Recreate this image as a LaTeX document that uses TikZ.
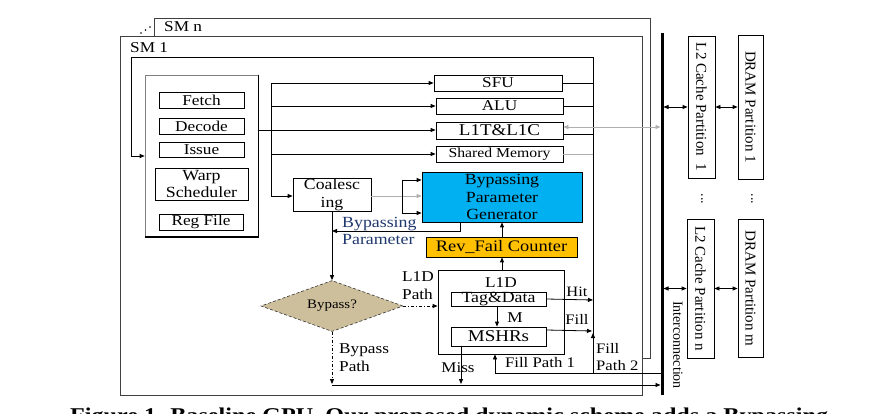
\documentclass[tikz,border=0pt]{standalone}
\usepackage{graphicx}
\usepackage{fontspec}
\setmainfont{Liberation Serif}[FakeStretch=1.15]
\newfontfamily\rotfont{Liberation Serif}
\usetikzlibrary{arrows.meta,shapes.geometric}
\definecolor{bpgblue}{RGB}{0,176,240}
\definecolor{revorange}{RGB}{255,192,0}
\definecolor{diatan}{RGB}{206,191,156}
\definecolor{navyt}{RGB}{31,56,110}
\definecolor{lgray}{RGB}{175,175,175}
\tikzset{
 fr/.style={draw=black!75, line width=0.8pt, fill=white, inner sep=0pt},
 bx/.style={draw, line width=0.8pt, inner sep=0pt, align=center, font=\fontsize{15}{17}\selectfont},
 ar/.style={-{Triangle[length=5pt,width=4pt]}, line width=0.8pt},
 dar/.style={{Triangle[length=5pt,width=4pt]}-{Triangle[length=5pt,width=4pt]}, line width=0.8pt},
 ln/.style={line width=0.8pt},
 dd/.style={dash pattern=on 3pt off 2pt on 1pt off 2pt},
 lbl/.style={inner sep=0pt, font=\fontsize{15}{18}\selectfont, align=left},
 rbx/.style={draw, line width=0.8pt, inner sep=0pt, font=\rotfont\fontsize{15}{16}\selectfont},
}
\begin{document}
\begin{tikzpicture}[x=1pt,y=-1pt]
\useasboundingbox (0,0) rectangle (892,414);
\clip (0,0) rectangle (892,414);
% frames
\node[fr, minimum width=496pt, minimum height=340pt] (smn) at (402,188) {};
\node[fr, minimum width=522pt, minimum height=359pt] (sm1) at (381,215.5) {};
\node[lbl, anchor=west] (smnl) at (164,27) {SM n};
\node[lbl, anchor=west] (sm1l) at (130,48) {SM 1};
\foreach \i in {0,1,2} \fill (141+4.5*\i,33-3*\i) circle (0.8pt);
% interconnect
\coordinate (ict) at (662,33);
\coordinate (icb) at (662,395);
\draw[line width=3pt] (ict) -- (icb);
\node[rotate=-90, inner sep=0pt, font=\rotfont\fontsize{14}{16}\selectfont] (ictxt) at (678,345) {Interconnection};
% pipeline
\node[draw=black!50, line width=0.6pt, minimum width=113pt, minimum height=162pt] (pipe) at (201.5,156) {};
\draw[line width=1.6pt] (pipe.north east) -- (pipe.south east) -- (pipe.south west);
\node[bx, minimum width=85pt, minimum height=16pt] (fetch) at (201.5,100) {Fetch};
\node[bx, minimum width=85pt, minimum height=16pt] (decode) at (201.5,126) {Decode};
\node[bx, minimum width=85pt, minimum height=15pt] (issue) at (201.5,149.5) {Issue};
\node[bx, minimum width=93pt, minimum height=32pt, font=\fontsize{15.5}{17}\selectfont] (warp) at (201.5,184) {Warp\\Scheduler};
\node[bx, minimum width=84pt, minimum height=16pt] (reg) at (201,222) {Reg File};
\foreach \n in {fetch,decode,issue} \draw[line width=1.5pt] (\n.north east) -- (\n.south east);
% functional units
\node[bx, minimum width=128pt, minimum height=16pt] (sfu) at (498,83) {SFU};
\draw[line width=1.6pt] (sfu.north east) -- (sfu.south east);
\node[bx, minimum width=127pt, minimum height=16pt] (alu) at (499.5,106) {ALU};
\node[bx, minimum width=127pt, minimum height=17pt, font=\fontsize{16.5}{17}\selectfont] (l1t) at (499.5,130.5) {L1T\&L1C};
\node[bx, minimum width=127pt, minimum height=16pt, font=\fontsize{13.7}{16}\selectfont] (shm) at (499.5,154) {Shared Memory};
\node[bx, minimum width=78pt, minimum height=33pt, font=\fontsize{15.4}{18}\selectfont] (coal) at (332,194.5) {Coalesc\\ing};
\node[bx, fill=bpgblue, minimum width=160pt, minimum height=50pt, font=\fontsize{15.5}{17.5}\selectfont] (bpg) at (502,197) {Bypassing\\Parameter\\Generator};
\node[bx, fill=revorange, minimum width=151pt, minimum height=20pt, font=\fontsize{16}{18}\selectfont] (rev) at (501.5,247) {Rev\_Fail Counter};
\node[diamond, draw=black!80, densely dashed, line width=0.6pt, fill=diatan, minimum width=142pt, minimum height=51pt, inner sep=0pt, aspect=2.8, font=\fontsize{13}{15}\selectfont] (dec) at (332,306) {Bypass?};
% L1D
\node[bx, minimum width=126pt, minimum height=84pt] (l1d) at (501,312) {};
\node[lbl] (l1dl) at (501,283) {L1D};
\node[bx, minimum width=95pt, minimum height=14pt, font=\fontsize{15.5}{17}\selectfont] (tag) at (498.5,299) {Tag\&Data};
\node[bx, minimum width=95pt, minimum height=19pt, font=\fontsize{16.5}{17}\selectfont] (mshr) at (498.5,336.5) {MSHRs};
% L2 / DRAM
\node[rbx, minimum width=27pt, minimum height=142pt] (l2a) at (701.5,107) {\rotatebox{-90}{L2 Cache Partition~~1}};
\node[rbx, minimum width=25pt, minimum height=144pt] (dr1) at (750.5,107) {\rotatebox{-90}{DRAM Partition 1}};
\node[rbx, minimum width=27pt, minimum height=139pt] (l2b) at (700.5,288.5) {\rotatebox{-90}{L2 Cache Partition n}};
\node[rbx, minimum width=25pt, minimum height=138pt] (drm) at (750.5,288.5) {\rotatebox{-90}{DRAM Partition m}};
\node[rotate=-90, inner sep=0pt, font=\rotfont\fontsize{14}{16}\selectfont] (dots1) at (702,199) {...};
\node[rotate=-90, inner sep=0pt, font=\rotfont\fontsize{14}{16}\selectfont] (dots2) at (752,199) {...};
\draw[dar, shorten <=1.5pt] (ict |- l2a) -- (l2a.west);
\draw[dar] (l2a.east) -- (dr1.west);
\draw[dar, shorten <=1.5pt] (ict |- l2b) -- (l2b.west);
\draw[dar] (l2b.east) -- (drm.west);
% loop / writeback
\draw[ln] (593,57) -- (593,373);
\draw[ar] (593,57) -- (131,57) -- (131,156) -- (pipe.west |- 0,156);
% issue outputs
\draw[ar] (pipe.east |- 0,130) -- (l1t.west |- 0,130);
\draw[ln] (271,83) -- (271,196);
\draw[ar] (271,83) -- (sfu.west);
\draw[ar] (271,106) -- (alu.west);
\draw[ar] (271,154) -- (shm.west);
\draw[ar] (271,196) -- (coal.west |- 0,196);
% unit outputs
\draw[ln] (sfu.east) -- (593,83);
\draw[ln] (alu.east) -- (593,106);
\draw[ln] (l1t.east |- 0,134) -- (593,134);
\draw[ln, lgray] (shm.east) -- (593,154);
\draw[dar, lgray, shorten >=1.5pt] (l1t.east |- 0,127) -- (ict |- 0,127);
% coalescing -> BPG
\draw[ar, lgray] (coal.east |- 0,196) -- (bpg.west |- 0,196);
\draw[ar] (402,196) -- (402,180) -- (bpg.west |- 0,180);
\draw[ar] (402,196) -- (402,213) -- (bpg.west |- 0,213);
\draw[ar] (bpg.south -| 460,0) -- (460,231) -- (332,231);
\node[lbl, anchor=west, text=navyt, font=\fontsize{15.5}{17}\selectfont] (bpl) at (342,231) {Bypassing\\Parameter};
\draw[ar] (coal.south) -- (dec.north);
\draw[ar] (rev.north -| 502,0) -- (bpg.south -| 502,0);
\draw[ar] (l1d.north -| 502,0) -- (rev.south -| 502,0);
% bypass decision
\draw[ar, dd] (dec.east) -- (l1d.west |- dec.east);
\node[lbl, anchor=west] (l1dp) at (402,286) {L1D\\Path};
\draw[ar, dd] (dec.south) -- (332,384);
\node[lbl, anchor=west] (byp) at (339,358) {Bypass\\Path};
\draw[ar, shorten >=1.5pt] (332,385) -- (ict |- 0,385);
% inside L1D
\draw[ar] (tag.south -| 497,0) -- (mshr.north -| 497,0);
\node[lbl] (ml) at (515,318) {M};
\draw[ar] (mshr.south -| 461,0) -- (461,384);
\node[lbl, font=\fontsize{14.8}{17}\selectfont] (missl) at (458,368) {Miss};
\draw[ar] (tag.east) -- (593,300);
\node[lbl, font=\fontsize{14.3}{17}\selectfont] (hitl) at (577,292) {Hit};
\draw[ar] (mshr.east |- 0,330) -- (592,331);
\node[lbl, font=\fontsize{14.5}{17}\selectfont] (filll) at (577,319) {Fill};
% fill paths
\draw[ar] (593,373) -- (593,333);
\node[lbl, anchor=west, font=\fontsize{14.5}{17.5}\selectfont] (fp2) at (596,357) {Fill\\Path 2};
\draw[ar] (ict |- 0,373) -- (495,373) -- (l1d.south -| 495,0);
\node[lbl, font=\fontsize{14.6}{17}\selectfont] (fp1) at (540,363) {Fill Path 1};
% caption (cut by the bottom edge, as in the reference)
\node[anchor=base west, inner sep=0pt, font=\bfseries\fontsize{21}{21}\selectfont] (cap) at (70,422) {Figure 1. Baseline GPU. Our proposed dynamic scheme adds a Bypassing};
\end{tikzpicture}
\end{document}
